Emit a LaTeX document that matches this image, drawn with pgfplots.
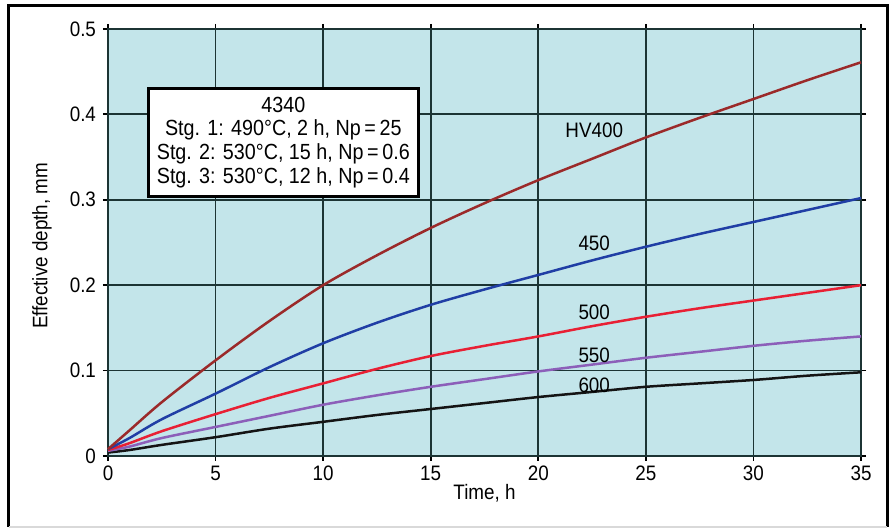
\documentclass[border=0pt]{standalone}
\usepackage{fontspec}
\setmainfont{Liberation Sans}[FakeStretch=0.9]
\usepackage{pgfplots}
\pgfplotsset{compat=1.18}
\usepackage{pgfplotstable}

\definecolor{bgc}{RGB}{195,229,234}
\definecolor{gridc}{RGB}{28,52,52}
\definecolor{c400}{RGB}{155,42,42}
\definecolor{c450}{RGB}{32,62,165}
\definecolor{c500}{RGB}{232,32,52}
\definecolor{c550}{RGB}{140,95,185}
\definecolor{c600}{RGB}{20,20,20}

\pgfplotstableread{
t     hv400 h450  h500  h550  h600
0     0.008 0.008 0.007 0.006 0.004
1     0.030 0.021 0.015 0.011 0.007
2.5   0.063 0.043 0.029 0.021 0.013
5     0.112 0.073 0.049 0.034 0.022
7.5   0.158 0.104 0.068 0.047 0.032
10    0.200 0.132 0.085 0.060 0.040
12.5  0.235 0.156 0.102 0.071 0.048
15    0.267 0.177 0.117 0.081 0.055
17.5  0.296 0.195 0.129 0.090 0.062
20    0.323 0.212 0.140 0.099 0.069
22.5  0.348 0.229 0.152 0.107 0.075
25    0.373 0.245 0.163 0.115 0.081
27.5  0.396 0.260 0.173 0.122 0.085
30    0.418 0.274 0.182 0.129 0.089
32.5  0.440 0.288 0.191 0.135 0.094
35    0.461 0.302 0.200 0.140 0.098
}\data

\begin{document}
\begin{tikzpicture}
\begin{axis}[
  scale only axis, width=376.5bp, height=213.5bp,
  xmin=0, xmax=35, ymin=0, ymax=0.5,
  xtick={0,5,10,15,20,25,30,35},
  ytick={0,0.1,0.2,0.3,0.4,0.5},
  yticklabels={0,0.1,0.2,0.3,0.4,0.5},
  grid=major,
  major grid style={gridc, line width=0.9bp},
  axis background/.style={fill=bgc},
  axis line style={gridc, line width=0.9bp},
  tick align=outside, major tick length=2.5bp,
  tick style={black, line width=0.9bp},
  /pgf/number format/assume math mode=true,
  ticklabel style={font=\fontsize{10.5}{12}\selectfont},
  xticklabel style={yshift=1bp},
  label style={font=\fontsize{10.5}{12}\selectfont},
  xlabel={Time, h}, ylabel={Effective depth, mm},
  x label style={at={(axis description cs:0.5,-0.0866)}, anchor=center},
  y label style={at={(axis description cs:-0.0877,0.492)}, anchor=center},
  every axis plot/.append style={line width=1.25bp, smooth, tension=0.5},
  clip=false,
]
\addplot[c600] table[x=t, y=h600] {\data};
\addplot[c550] table[x=t, y=h550] {\data};
\addplot[c500] table[x=t, y=h500] {\data};
\addplot[c450] table[x=t, y=h450] {\data};
\addplot[c400] table[x=t, y=hv400] {\data};

\begin{scope}[every node/.style={font=\fontsize{10.5}{12}\selectfont, inner sep=0pt}]
\node at (axis cs:22.6,0.381) {HV400};
\node at (axis cs:22.6,0.249) {450};
\node at (axis cs:22.6,0.168) {500};
\node at (axis cs:22.6,0.118) {550};
\node at (axis cs:22.6,0.083) {600};
\end{scope}

\node[draw=black, line width=1.3bp, fill=white, align=center,
      font=\fontsize{11}{12}\selectfont, minimum width=135bp, minimum height=54bp, inner sep=2bp]
  at (axis cs:8.15,0.367)
  {4340\\Stg. 1: 490°C, 2 h, Np\,=\,25\\Stg. 2: 530°C, 15 h, Np\,=\,0.6\\Stg. 3: 530°C, 12 h, Np\,=\,0.4};
\end{axis}

\draw[line width=1.5bp, black]
  ([shift={(-49.5bp,-35.5bp)}]current axis.south west) --
  ([shift={(-49.5bp,11.5bp)}]current axis.north west) --
  ([shift={(13bp,11.5bp)}]current axis.north east) --
  ([shift={(13bp,-35.5bp)}]current axis.south east);
\draw[line width=1bp, black!15]
  ([shift={(-49.5bp,-35.5bp)}]current axis.south west) --
  ([shift={(13bp,-35.5bp)}]current axis.south east);

\pgfresetboundingbox
\path[use as bounding box]
  ([shift={(-54bp,-36.5bp)}]current axis.south west) rectangle
  ([shift={(14.5bp,14.5bp)}]current axis.north east);
\end{tikzpicture}
\end{document}
